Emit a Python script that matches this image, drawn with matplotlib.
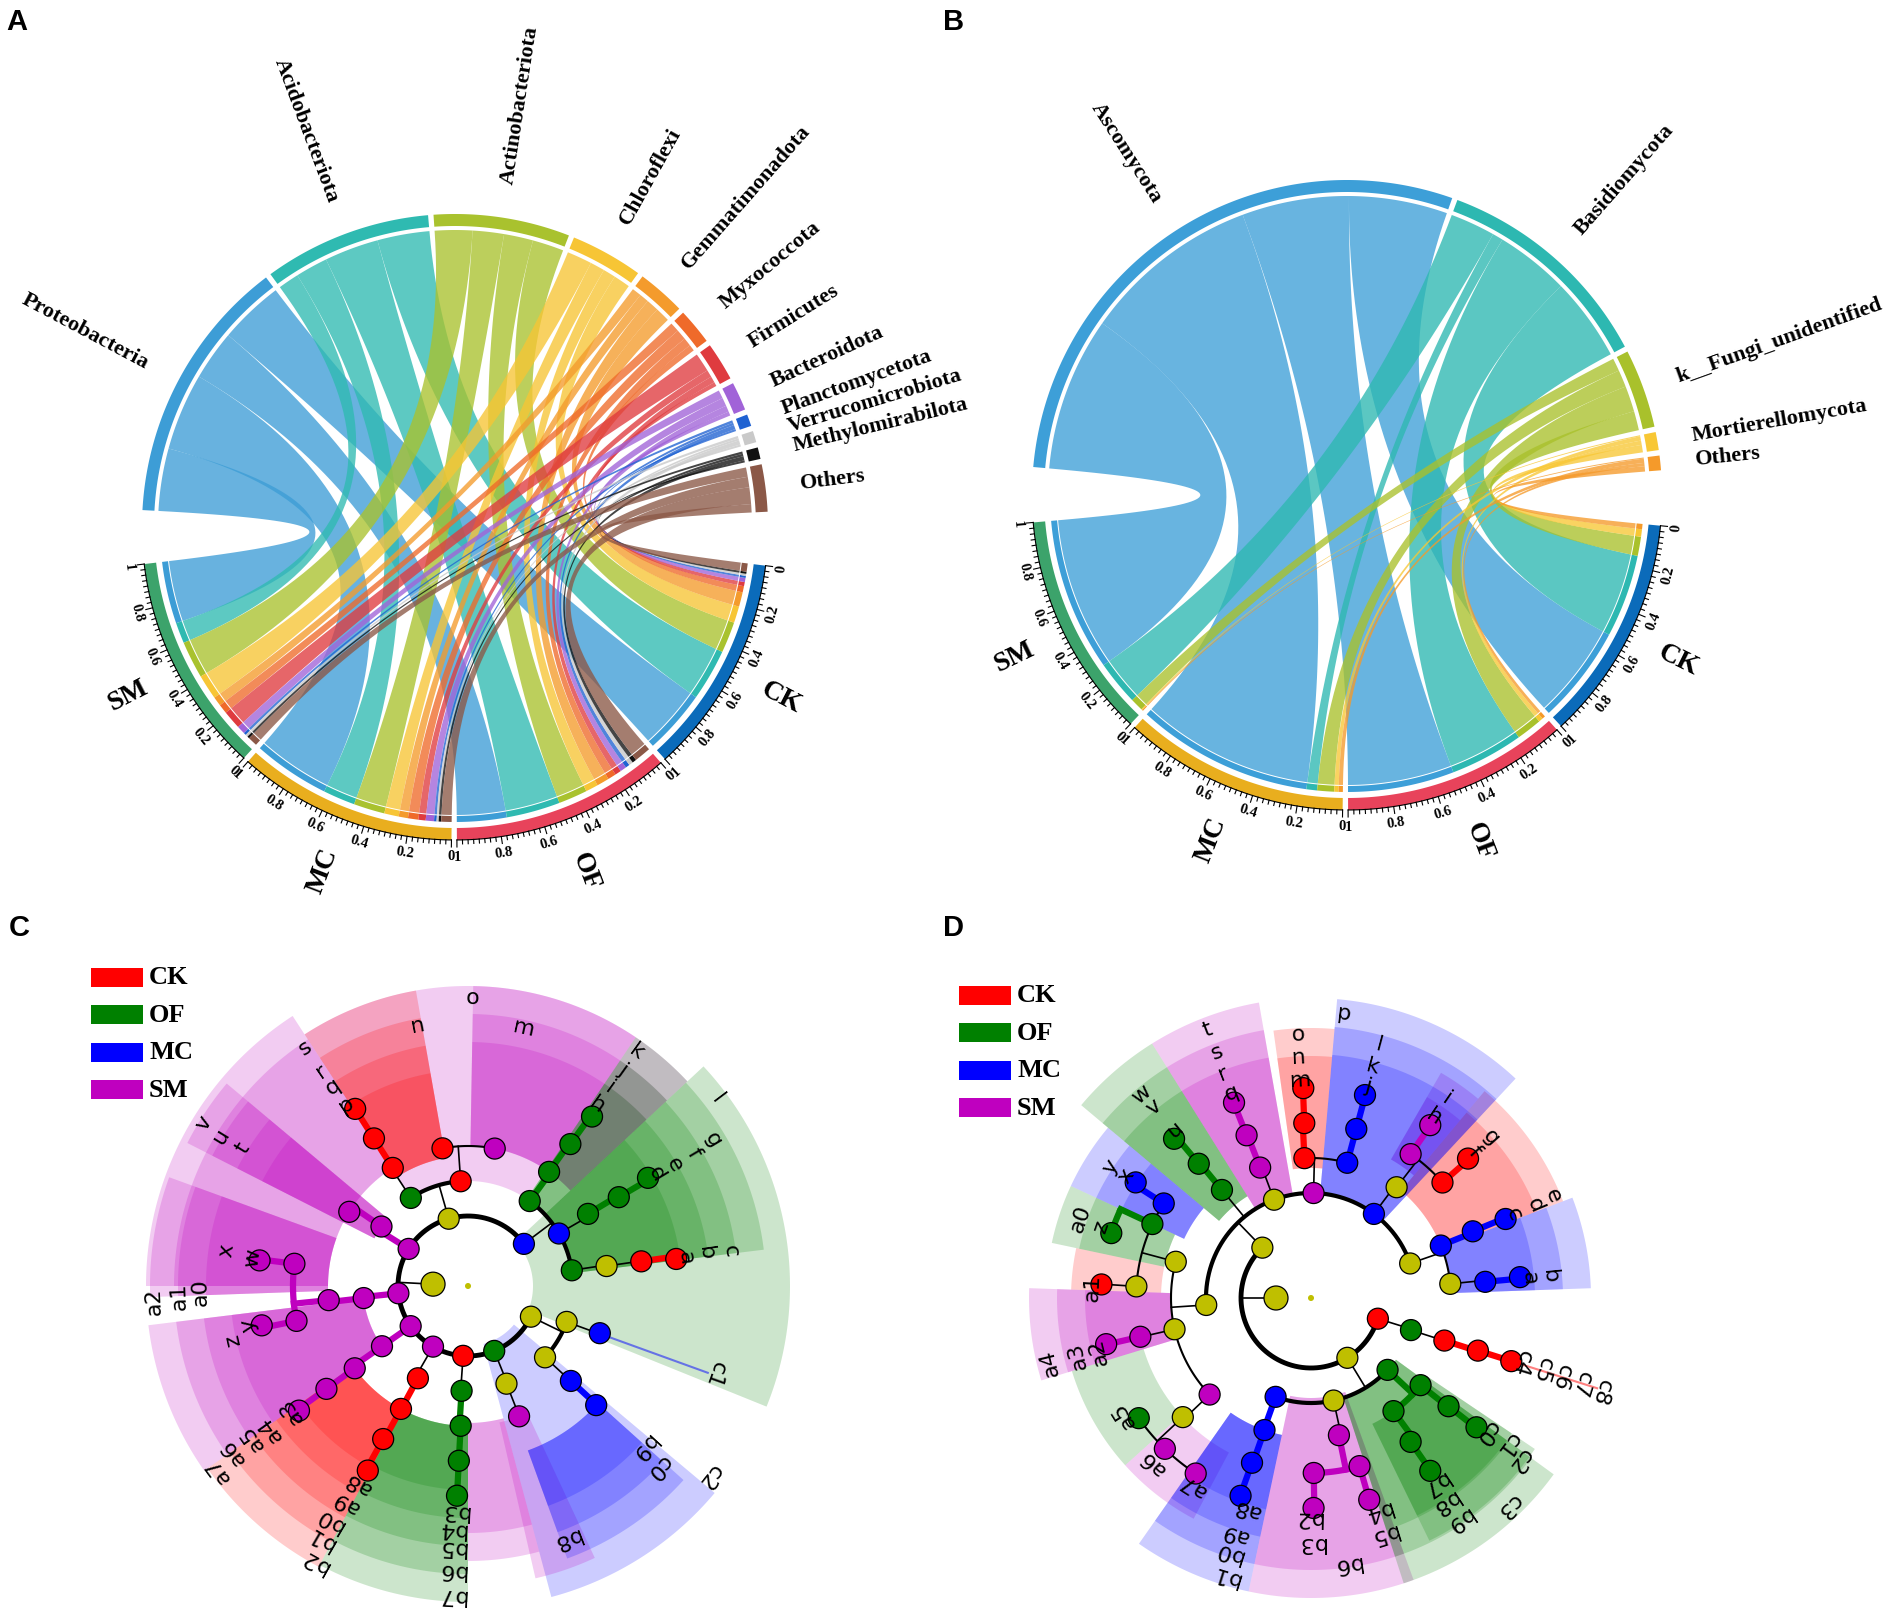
import numpy as np
import matplotlib.pyplot as plt
from matplotlib.patches import Polygon, Circle, Rectangle

W, H = 1902, 1615
SERIF = "Liberation Serif"
SANS = "Liberation Sans"

# ---------------- panel A : bacterial phyla (relative abundance per treatment)
groups = ["CK", "OF", "MC", "SM"]
group_colors = ["#0b6bba", "#e8435b", "#e9ae1e", "#3ca36b"]

phyla_A = ["Proteobacteria", "Acidobacteriota", "Actinobacteriota", "Chloroflexi",
           "Gemmatimonadota", "Myxococcota", "Firmicutes", "Bacteroidota",
           "Planctomycetota", "Verrucomicrobiota", "Methylomirabilota", "Others"]
phyla_A_colors = ["#3d9dd6", "#2fbab1", "#a9c22e", "#f7c535", "#f49b2c", "#ef6a2a",
                  "#df3b3f", "#a163d8", "#1f62d2", "#c9c9c9", "#111111", "#8b5847"]
A_CK = [0.31, 0.25, 0.15, 0.08, 0.07, 0.03, 0.02, 0.02, 0.01, 0.01, 0.01, 0.04]
A_OF = [0.24, 0.26, 0.14, 0.06, 0.06, 0.04, 0.03, 0.03, 0.02, 0.02, 0.02, 0.08]
A_MC = [0.37, 0.155, 0.15, 0.07, 0.045, 0.05, 0.035, 0.04, 0.012, 0.01, 0.012, 0.05]
A_SM = [0.30, 0.10, 0.18, 0.12, 0.045, 0.045, 0.09, 0.04, 0.012, 0.012, 0.011, 0.045]

# ---------------- panel B : fungal phyla
phyla_B = ["Ascomycota", "Basidiomycota", "k__Fungi_unidentified", "Mortierellomycota", "Others"]
phyla_B_colors = ["#3d9fd8", "#2db8b1", "#a9c12b", "#f8c734", "#f59a2a"]
B_CK = [0.46, 0.39, 0.09, 0.035, 0.025]
B_OF = [0.50, 0.345, 0.12, 0.02, 0.015]
B_MC = [0.83, 0.05, 0.08, 0.02, 0.02]
B_SM = [0.72, 0.21, 0.06, 0.005, 0.005]

# ---------------- panels C / D : LEfSe cladograms
CL = {'r': '#ff0000', 'g': '#008000', 'b': '#0000ff', 'm': '#bf00bf', 'y': '#bfbf00'}
legend_names = ["CK", "OF", "MC", "SM"]
legend_cols = ['r', 'g', 'b', 'm']

# node tables: parent, level, angle (deg), colour
C_par = [-1, 0, 1, 1, 1, 1, 1, 1, 1, 1, 1, 2, 2, 3, 13, 4, 15, 16, 17, 16, 19, 5, 21, 22, 23,
         6, 25, 26, 27, 7, 29, 30, 31, 8, 33, 9, 35, 9, 37, 38, 10, 40, 41, 42, 10, 44, 45, 46,
         10, 48, 49, 50, 11, 52, 53, 12, 12]
C_lev = [0, 1, 2, 2, 2, 2, 2, 2, 2, 2, 2, 3, 3, 3, 4, 3, 4, 5, 6, 5, 6, 3, 4, 5, 6,
         3, 4, 5, 6, 3, 4, 5, 6, 3, 4, 3, 4, 3, 4, 5, 3, 4, 5, 6, 3, 4, 5, 6,
         3, 4, 5, 6, 4, 5, 6, 4, 4]
C_th = [0, 177, 106, 148, 186, 215, 240, 266, 292, 334, 37, 123, 94, 145.5, 148, 186.6, 185.8,
        172.7, 173, 191.5, 190.8, 215, 216, 216, 216.4, 241.5, 241.4, 241, 241.5, 266.5, 267,
        267, 267, 291.5, 291.4, 340, 340.3, 317.2, 317.3, 317.1, 30, 31, 30.5, 31, 54, 54.6,
        54.2, 53.8, 8.6, 8.2, 8.1, 7.4, 122.5, 122.5, 122.5, 100.5, 79]
C_col = "yyymmmmrgybgrmmmmmmmmmmmmrrrrggggymybybbbggggggggyrrrrrrmm"
C_wedges = [(56, 123, 105, 300, 'm', 1), (100, 123, 130, 300, 'r', 4), (43, 89, 140, 300, 'm', 3),
            (-22, 43, 65, 322, 'g', 1), (7, 43, 105, 298, 'g', 4), (43, 56, 105, 300, 'g', 3),
            (123, 180, 140, 322, 'm', 2), (140, 153, 105, 315, 'm', 4), (160, 182, 140, 318, 'm', 3),
            (187, 215, 105, 322, 'm', 4), (215, 242, 140, 318, 'r', 5), (242, 270, 140, 316, 'g', 5),
            (270, 285, 137, 275, 'm', 2), (285, 320, 60, 322, 'b', 1), (283, 295, 140, 300, 'm', 1),
            (290, 318, 175, 290, 'b', 3)]
C_labels = [("o", 289, 89.1), ("n", 266, 100.8), ("m", 265, 77.8), ("s", 289, 124.2),
            ("r", 261, 124.2), ("q", 241, 124), ("p", 219, 123.9), ("k", 289.5, 54.4),
            ("j", 267, 54.5), ("i", 245, 54.5), ("h", 223, 54.7), ("l", 313, 37),
            ("g", 286, 31), ("f", 262, 30.7), ("e", 240, 30.5), ("d", 220, 31),
            ("c", 264.5, 7.8), ("b", 240, 8), ("a", 219, 7.6), ("c1", 262, 340.5),
            ("c2", 307, 321.8), ("c0", 262, 316.4), ("b9", 237, 317.5), ("b8", 270, 291.4),
            ("b7", 309, 266.9), ("b6", 283.5, 266.7), ("b5", 261, 266.4), ("b4", 242.6, 266.1),
            ("b3", 224.4, 266.5), ("b2", 314, 240.8), ("b1", 291, 239.7), ("b0", 271, 239.4),
            ("a9", 247.5, 240.3), ("a8", 225.6, 240.7), ("a7", 310, 216.2), ("a6", 287, 215),
            ("a5", 264, 214.9), ("a4", 244, 215.6), ("a3", 216, 215), ("z", 241, 192.7),
            ("y", 223, 190), ("a2", 314, 182.6), ("a1", 289, 181.9), ("a0", 268, 181),
            ("x", 244, 171.5), ("w", 218, 172.4), ("v", 311, 148.3), ("u", 289, 148.7),
            ("t", 265, 148.5)]
C_leaders = [(340.1, 140, 255, 'b')]

D_par = [-1, 0, 1, 1, 1, 2, 2, 2, 2, 2, 5, 5, 5, 6, 13, 14, 7, 16, 17, 7, 19, 20, 8, 22, 23,
         22, 25, 9, 27, 28, 9, 30, 31, 2, 33, 34, 10, 36, 10, 38, 10, 40, 11, 42, 12, 44, 44, 44,
         3, 48, 49, 50, 3, 52, 53, 54, 53, 56, 3, 58, 59, 60, 58, 62, 63, 4, 65, 66, 67]
D_lev = [0, 1, 2, 2, 2, 3, 3, 3, 3, 3, 4, 4, 4, 4, 5, 6, 4, 5, 6, 4, 5, 6, 4, 5, 6,
         5, 6, 4, 5, 6, 4, 5, 6, 4, 5, 6, 5, 6, 5, 6, 5, 6, 5, 6, 5, 6, 6, 6,
         3, 4, 5, 6, 3, 4, 5, 6, 5, 6, 3, 4, 5, 6, 4, 5, 6, 3, 4, 5, 6]
D_th = [0, 180, 134, 301.3, 342.8, 183.8, 110.6, 88.6, 53.2, 19.2, 165, 192.9, 223.6, 111.3,
        111.6, 111.5, 92.7, 92.2, 92.1, 75, 75, 75.1, 52.3, 55.3, 55.4, 41.3, 41.6, 22, 22.4,
        22.1, 5.8, 5.3, 5.7, 129.5, 129.9, 130.7, 147.3, 146.6, 155, 162, 176.2, 176.3, 192.8,
        192.7, 222.9, 214.9, 225.9, 236.7, 250.3, 250.6, 250.3, 250.4, 282.4, 281.5, 286.1,
        286.1, 270.9, 270.7, 316.8, 321.5, 321.8, 322, 306.1, 304.7, 304.6, 342.2, 342.3,
        342.5, 342.5]
D_col = "yyyyryymbyyymmmmrrrbbbymmrrbbbybbgggbbggyrmmygmmbbbbymmmmmggggggggrrrr"
D_wedges = [(100, 122, 105, 300, 'm', 3), (122, 140, 120, 300, 'g', 3), (140, 155, 140, 265, 'b', 3),
            (155, 168, 150, 265, 'g', 2), (168, 178, 150, 240, 'r', 1), (178, 197, 140, 282, 'm', 3),
            (197, 222, 175, 250, 'g', 1), (222, 242, 175, 250, 'm', 1), (235, 258, 140, 300, 'b', 4),
            (258, 290, 100, 300, 'm', 2), (288, 324, 105, 300, 'g', 3), (296, 326, 140, 270, 'g', 2),
            (2, 21, 140, 280, 'b', 3), (21, 50, 140, 270, 'r', 2), (50, 60, 160, 260, 'm', 2),
            (47, 85, 105, 300, 'b', 3), (85, 98, 130, 270, 'r', 2)]
D_labels = [("t", 288, 111), ("s", 264, 110.9), ("r", 242, 111.4), ("q", 220, 111),
            ("w", 266, 129.7), ("v", 248, 129.5), ("u", 217, 129), ("y", 240, 146.6),
            ("x", 222, 146.4), ("a0", 244, 160.9), ("z", 222, 160.8), ("a1", 219, 177),
            ("a4", 269, 193.7), ("a3", 240.5, 193.7), ("a2", 219, 193.9), ("a5", 221, 211.7),
            ("a6", 228, 226), ("a7", 221, 237.6), ("b1", 289, 252.8), ("b0", 266, 252),
            ("a9", 247, 252), ("a8", 219, 253), ("b3", 244, 270), ("b2", 219, 269.1),
            ("b6", 267, 277.8), ("b5", 246, 287.1), ("b4", 222, 287.4), ("b9", 266, 303.8),
            ("b8", 243, 303.2), ("b7", 222, 303.8), ("c3", 286, 313.5), ("c2", 264, 322.2),
            ("c1", 245, 323.4), ("c0", 221, 322.5), ("c8", 305, 342.2), ("c7", 284, 342.4),
            ("c6", 263, 342.6), ("c5", 242, 342.8), ("c4", 220, 343), ("b", 240, 5.5),
            ("a", 219, 5.5), ("e", 263, 23), ("d", 242.5, 22.7), ("c", 219.5, 22.6),
            ("g", 242, 42), ("f", 220, 42), ("i", 242, 56), ("h", 220, 56), ("l", 263, 75),
            ("k", 240, 75), ("j", 220, 75), ("o", 265, 92.7), ("n", 242, 93), ("m", 219, 92.8),
            ("p", 287, 83.4)]
D_leaders = [(342.5, 210, 300, 'r')]


def pt(cx, cy, r, th):
    t = np.radians(th)
    return np.array([cx + r * np.cos(t), cy - r * np.sin(t)])


def arc(cx, cy, r, t1, t2):
    n = max(4, int(abs(t2 - t1) * 2) + 2)
    t = np.radians(np.linspace(t1, t2, n))
    return np.column_stack([cx + r * np.cos(t), cy - r * np.sin(t)])


def bez(p0, p2, c, n=50):
    s = np.linspace(0, 1, n)[:, None]
    return (1 - s) ** 2 * p0 + 2 * (1 - s) * s * c + s ** 2 * p2


def sector(ax, cx, cy, r1, r2, t1, t2, **kw):
    ax.add_patch(Polygon(np.vstack([arc(cx, cy, r2, t1, t2), arc(cx, cy, r1, t2, t1)]),
                         closed=True, **kw))


def chord(ax, cx, cy, R, names, cols, columns, start, big_gap, gap=1.0, name_fs=16):
    mat = np.array(columns, dtype=float).T
    mat = mat / mat.sum(axis=0)
    n_p, n_g = mat.shape
    # rows and columns each take one half of the circle
    unit = (360 - gap * (n_p + n_g - 2) - 2 * big_gap) / (2 * mat.sum())
    th = start
    p_start = []
    for i in range(n_p):
        p_start.append(th)
        th -= mat[i].sum() * unit + (gap if i < n_p - 1 else big_gap)
    g_start = []
    for j in range(n_g):
        g_start.append(th)
        th -= mat[:, j].sum() * unit + gap
    r_p, r_g = R - 16, R - 25
    pe, ge = {}, {}
    for i in range(n_p):
        o = 0
        for j in reversed(range(n_g)):
            a1 = p_start[i] - o * unit
            o += mat[i, j]
            pe[i, j] = (a1, p_start[i] - o * unit)
    for j in range(n_g):
        o = 0
        for i in reversed(range(n_p)):
            b1 = g_start[j] - o * unit
            o += mat[i, j]
            ge[i, j] = (b1, g_start[j] - o * unit)
    c = np.array([cx, cy])
    for i in range(n_p):
        for j in range(n_g):
            a1, a2 = pe[i, j]
            b1, b2 = ge[i, j]
            poly = np.vstack([arc(cx, cy, r_p, a1, a2), bez(pt(cx, cy, r_p, a2), pt(cx, cy, r_g, b1), c),
                              arc(cx, cy, r_g, b1, b2), bez(pt(cx, cy, r_g, b2), pt(cx, cy, r_p, a1), c)])
            ax.add_patch(Polygon(poly, closed=True, fc=cols[i], ec='none', alpha=0.78, zorder=2))
            sector(ax, cx, cy, r_g + 1, r_g + 7, b1, b2, fc=cols[i], ec='none', zorder=3)
    # outer tracks
    for i in range(n_p):
        t1, t2 = p_start[i], p_start[i] - mat[i].sum() * unit
        sector(ax, cx, cy, R - 12, R, t1, t2, fc=cols[i], ec='none', zorder=3)
        tm = (t1 + t2) / 2
        x, y = pt(cx, cy, R * 1.112, tm)
        if tm > 90:
            ax.text(x, y, names[i], rotation=tm - 180, rotation_mode='anchor', ha='right', va='center',
                    fontsize=name_fs, family=SERIF, fontweight='bold')
        else:
            ax.text(x, y, names[i], rotation=tm, rotation_mode='anchor', ha='left', va='center',
                    fontsize=name_fs, family=SERIF, fontweight='bold')
    for j in range(n_g):
        t1 = g_start[j]
        span = mat[:, j].sum()
        t2 = t1 - span * unit
        sector(ax, cx, cy, R - 12, R, t1, t2, fc=group_colors[j], ec='none', zorder=3)
        a = arc(cx, cy, R, t1, t2)
        ax.plot(a[:, 0], a[:, 1], color='k', lw=0.8, zorder=4)
        for k in range(41):
            v = k * 0.025
            t = t1 - v * unit
            ln = 7 if k % 8 == 0 else 4
            p1, p2 = pt(cx, cy, R, t), pt(cx, cy, R + ln, t)
            ax.plot([p1[0], p2[0]], [p1[1], p2[1]], color='k', lw=0.8, zorder=4)
            if k % 8 == 0:
                x, y = pt(cx, cy, R + 16, t)
                ax.text(x, y, f"{v:g}", rotation=t + 90, ha='center', va='center',
                        fontsize=10.5, family=SERIF, fontweight='bold')
        tm = (t1 + t2) / 2
        x, y = pt(cx, cy, R + 55, tm)
        rot = tm if -90 <= tm <= 90 else tm + 180
        ax.text(x, y, groups[j], rotation=rot, ha='center', va='center', fontsize=20,
                family=SERIF, fontweight='bold')


def clado(ax, cx, cy, par, lev, th, col, wedges, labels, leaders, dr=35):
    for (t1, t2, r1, r2, c, k) in wedges:
        for i in range(k):
            sector(ax, cx, cy, r1, r2 - 28 * i, t1, t2, fc=CL[c], ec='none', alpha=0.2, zorder=1)
    for (t, r1, r2, c) in leaders:
        p1, p2 = pt(cx, cy, r1, t), pt(cx, cy, r2, t)
        ax.plot([p1[0], p2[0]], [p1[1], p2[1]], color=CL[c], lw=1.5, alpha=0.5, zorder=2)
    kids = {}
    for i in range(1, len(par)):
        kids.setdefault(par[i], []).append(i)
    for p, ch in kids.items():
        if p == 0:
            continue
        ra = (lev[p] + 1) * dr
        same = col[p] != 'y' and all(col[c] == col[p] for c in ch)
        ts = [th[p]] + [th[c] for c in ch]
        if same:
            kw = dict(color=CL[col[p]], lw=4.5)
        else:
            kw = dict(color='k', lw=3.5 if ra <= 2 * dr else (3.0 if ra <= 3 * dr else 1.5))
        a = arc(cx, cy, ra, min(ts), max(ts))
        ax.plot(a[:, 0], a[:, 1], solid_capstyle='butt', zorder=2, **kw)
        p1, p2 = pt(cx, cy, lev[p] * dr, th[p]), pt(cx, cy, ra, th[p])
        lk = dict(color=CL[col[p]], lw=4.5) if same else dict(color='k', lw=1.2)
        ax.plot([p1[0], p2[0]], [p1[1], p2[1]], zorder=2, **lk)
        for c in ch:
            if lev[c] > lev[p] + 1:
                p1, p2 = pt(cx, cy, ra, th[c]), pt(cx, cy, lev[c] * dr, th[c])
                lk = dict(color=CL[col[c]], lw=4.5) if col[c] == col[p] != 'y' else dict(color='k', lw=1.2)
                ax.plot([p1[0], p2[0]], [p1[1], p2[1]], zorder=2, **lk)
    for i in range(len(par)):
        x, y = pt(cx, cy, lev[i] * dr, th[i])
        if i == 0:
            ax.add_patch(Circle((x, y), 3, fc=CL['y'], ec='none', zorder=3))
        else:
            rad = 12 if i == 1 else 10.5
            ax.add_patch(Circle((x, y), rad, fc=CL[col[i]], ec='k', lw=0.9, zorder=3))
    for (s, r, t) in labels:
        x, y = pt(cx, cy, r, t)
        ax.text(x, y, s, rotation=t - 90, ha='center', va='center', fontsize=16,
                family='DejaVu Sans', zorder=4)


def legend(ax, x0, y0):
    for k, (nm, c) in enumerate(zip(legend_names, legend_cols)):
        y = y0 + 37.5 * k
        ax.add_patch(Rectangle((x0, y - 9.5), 52, 19, fc=CL[c], ec='none', zorder=5))
        ax.text(x0 + 58, y, nm, ha='left', va='center', fontsize=19, family=SERIF,
                fontweight='bold', zorder=5)


fig = plt.figure(figsize=(W / 100, H / 100), dpi=100)
ax = fig.add_axes([0, 0, 1, 1])
ax.set_xlim(0, W)
ax.set_ylim(H, 0)
ax.axis('off')

chord(ax, 455, 528, 313, phyla_A, phyla_A_colors, [A_CK, A_OF, A_MC, A_SM], 176.9, 9.9, name_fs=16)
chord(ax, 1347, 496, 315, phyla_B, phyla_B_colors, [B_CK, B_OF, B_MC, B_SM], 174.9, 10.1, name_fs=16)
clado(ax, 468, 1287, C_par, C_lev, C_th, C_col, C_wedges, C_labels, C_leaders)
clado(ax, 1311, 1299, D_par, D_lev, D_th, D_col, D_wedges, D_labels, D_leaders)
legend(ax, 91, 978)
legend(ax, 959, 996)

for s, x, y in [("A", 6, 22), ("B", 943, 22), ("C", 9, 928), ("D", 943, 928)]:
    ax.text(x, y, s, ha='left', va='center', fontsize=21, family=SANS, fontweight='bold')

fig.savefig("out.png", dpi=100)
